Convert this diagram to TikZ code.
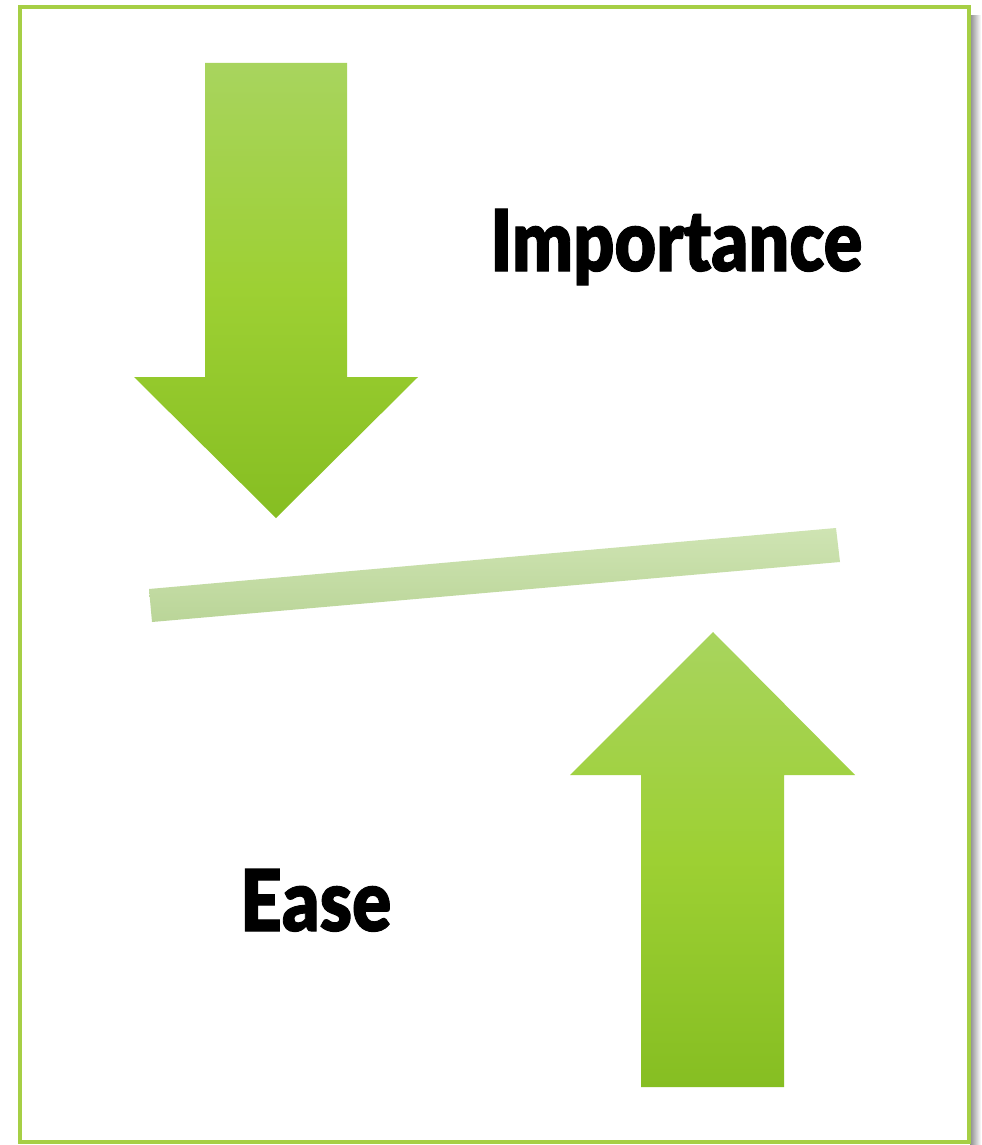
\documentclass[tikz,border=0pt]{standalone}
\usepackage{fontspec}
\newfontfamily\heavy[FakeBold=1.2]{Lato Black}
\begin{document}
\begin{tikzpicture}[x=0.75pt,y=-0.75pt,
  frame/.style={draw=framegreen,line width=2.8pt},
  arrowfill/.style={top color=arrowtop,bottom color=arrowbot,middle color=arrowmid,draw=none},
  label/.style={anchor=base west,inner sep=0pt,font=\heavy\fontsize{56}{60}\selectfont}]
\definecolor{framegreen}{HTML}{A6CF45}
\definecolor{arrowtop}{HTML}{A8D45E}
\definecolor{arrowmid}{HTML}{9DD033}
\definecolor{arrowbot}{HTML}{86BE22}
\definecolor{barlight}{HTML}{CFE4B3}
\definecolor{bardark}{HTML}{BAD598}
\useasboundingbox (0,0) rectangle (981,1145);
\fill[white] (0,0) rectangle (981,1145);
% drop shadow on the right side of the frame
\shade[left color=black!45,right color=white] (970,16) rectangle (981,1145);
% frame
\draw[frame] (20,7) rectangle (969,1142);
% downward arrow
\shade[arrowfill] (205,63) -- (347,63) -- (347,377) -- (418,377) -- (276,518)
  -- (134,377) -- (205,377) -- cycle;
% upward arrow
\shade[arrowfill] (713,632) -- (855,775) -- (784,775) -- (784,1087) -- (641,1087)
  -- (641,775) -- (570,775) -- cycle;
% tilted balance bar
\shade[top color=barlight,bottom color=bardark,draw=none]
  (149,589) -- (836,528) -- (840,562) -- (152,622) -- cycle;
% labels
\node[label] (imp) at (490,271) {\resizebox{372\dimexpr0.75pt}{62\dimexpr0.75pt}{Importance}};
\node[label] (ease) at (240,931) {\resizebox{151\dimexpr0.75pt}{62\dimexpr0.75pt}{Ease}};
\end{tikzpicture}
\end{document}
